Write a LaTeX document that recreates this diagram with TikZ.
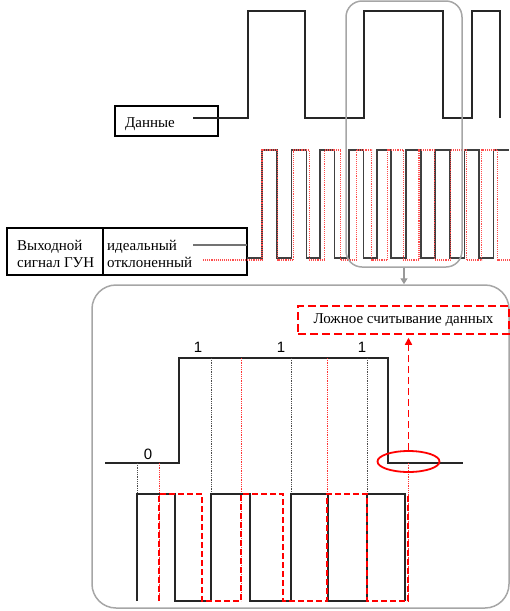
\documentclass[tikz,border=0pt]{standalone}
\usepackage{fontspec}
\setmainfont{Liberation Serif}
\newfontfamily\digitfont{Liberation Sans}
\usetikzlibrary{arrows.meta,shapes.geometric}
\begin{document}
\begin{tikzpicture}[x=1pt,y=-1pt,
 txt/.style={font=\fontsize{15}{17}\selectfont, inner sep=0pt, anchor=base west},
 bit/.style={font=\digitfont\fontsize{15}{17}\selectfont, inner sep=0pt, anchor=base},
 sig/.style={line width=1.4pt, draw=black!85},
 vcoideal/.style={line width=1.3pt, draw=black!75},
 vcodev/.style={line width=1.1pt, draw=red!70, densely dotted},
 devdash/.style={line width=1.4pt, draw=red, dash pattern=on 6pt off 3pt},
 sampk/.style={line width=0.8pt, draw=black!70, densely dotted},
 sampr/.style={line width=0.8pt, draw=red!80, densely dotted},
 win/.style={draw=black!35, line width=1.5pt, inner sep=0pt},
]
\useasboundingbox (0,0) rectangle (510,611);

% ---------- top: data signal ----------
\node[draw, line width=1.9pt, minimum width=103pt, minimum height=30pt, inner sep=0pt] (databox) at (166.5,121) {};
\node[txt] (tdata) at (125,127) {Данные};
\draw[sig] (193,118) -- (248,118) -- (248,11) -- (305,11) -- (305,118) -- (364,118) -- (364,11)
  -- (443,11) -- (443,118) -- (472,118) -- (472,11) -- (500,11) -- (500,118);

% ---------- VCO output ----------
\node[draw, line width=1.5pt, minimum width=240pt, minimum height=47pt, inner sep=0pt] (legend) at (127,251.5) {};
\draw[line width=1.2pt] (103,228) -- (103,275);
\node[txt] (t1) at (17,250) {Выходной};
\node[txt] (t2) at (17,267) {сигнал ГУН};
\node[txt] (t3) at (107,250) {идеальный};
\node[txt] (t4) at (107,267) {отклоненный};
\draw[black!55, line width=1.3pt] (193,245) -- (247,245);

\draw[vcoideal] (247,258) foreach \r/\f in {262/277, 291.5/306.5, 320/334.5, 349/363.5, 377/391, 406/421, 435/450, 464.5/479}
  { -- (\r,258) -- (\r,150) -- (\f,150) -- (\f,258) } -- (493.5,258) -- (493.5,150) -- (509,150);
\draw[vcodev] (203,260) foreach \r/\f in {262/277.7, 293.4/309.1, 324.8/340.5, 356.2/371.9, 387.6/403.3, 419/434.7, 450.4/466.1, 481.8/497.5}
  { -- (\r,260) -- (\r,150) -- (\f,150) -- (\f,260) } -- (510,260);

% ---------- zoom window and detail panel ----------
\node[win, rounded corners=16pt, minimum width=116pt, minimum height=266pt] (zoomwin) at (404,134) {};
\node[win, rounded corners=24pt, minimum width=417pt, minimum height=323pt] (detail) at (300.5,446.5) {};
\draw[black!40, line width=1.4pt, -{Triangle[length=6pt,width=7pt]}] (zoomwin.south) -- (zoomwin.south |- detail.north);

% ---------- detail: data ----------
\draw[sig] (105,463) -- (179,463) -- (179,358) -- (388,358) -- (388,463) -- (463,463);
\node[bit] (b0) at (148,459) {0};
\node[bit] (b1) at (198,352) {1};
\node[bit] (b2) at (281,352) {1};
\node[bit] (b3) at (362,352) {1};

% sampling lines
\draw[sampk] (137,463) -- (137,494);
\foreach \x in {211,291,367} \draw[sampk] (\x,358) -- (\x,494);
\draw[sampr] (159,463) -- (159,601);
\foreach \x in {241,327} \draw[sampr] (\x,358) -- (\x,601);
\draw[sampr] (408,463) -- (408,601);

% detail: ideal VCO
\draw[line width=1.4pt, black!85] (137,601) foreach \r/\f in {137/175, 211/250, 291/328, 367/405}
  { -- (\r,601) -- (\r,494) -- (\f,494) -- (\f,601) };
% detail: deviated VCO
\draw[devdash] (159,601) foreach \r/\f in {159/202, 241/283, 327/367}
  { -- (\r,601) -- (\r,494) -- (\f,494) -- (\f,601) } -- (408,601) -- (408,494);

% false reading
\node[draw=red, line width=1.8pt, ellipse, minimum width=62pt, minimum height=21pt, inner sep=0pt] (err) at (408.5,461.5) {};
\node[draw=red, line width=1.5pt, dash pattern=on 8pt off 4pt, minimum width=211pt, minimum height=28pt, inner sep=0pt,
  font=\fontsize{15}{17}\selectfont] (falsebox) at (403.5,320) {Ложное считывание данных};
\draw[red, line width=1.5pt, dash pattern=on 7pt off 4pt, -{Triangle[length=7pt,width=7pt]}, shorten >=3pt]
  (err.north) -- (err.north |- falsebox.south);
\end{tikzpicture}
\end{document}
